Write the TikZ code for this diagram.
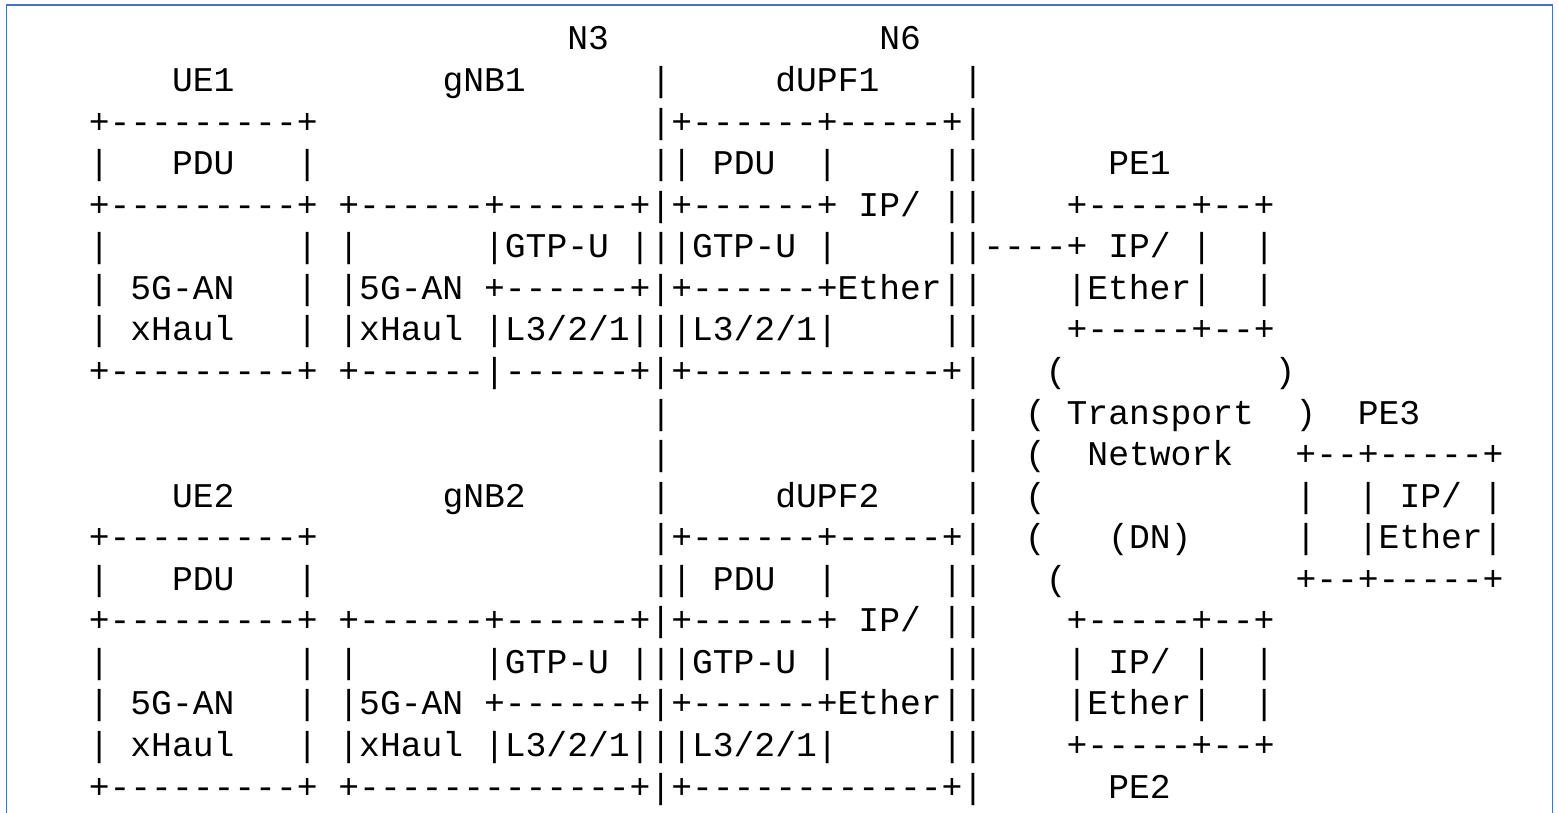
\documentclass[tikz,border=0pt]{standalone}
\usepackage{fontspec}
\setmonofont{Liberation Mono}
\usepackage{tikz}

\definecolor{frameblue}{RGB}{68,114,196}
\newcommand\asciifont{\fontsize{34.67pt}{41.56pt}\selectfont\ttfamily}
\newcommand\gap[1]{\kern#1\fontcharwd\font`x\relax}

\tikzset{
  artline/.style={anchor=base west, inner sep=0pt, font=\asciifont},
  frame/.style={draw=frameblue, line width=1.5pt}
}

\begin{document}
\begin{tikzpicture}[x=1pt,y=1pt]
\useasboundingbox (0,0) rectangle (1558,812);
\draw [frame] (6.5,-4) |- (1552.5,807) -- (1552.5,-4);

% interfaces and node names
\node (r0) [artline] at (26.2,762) {\gap{26}N3\gap{13}N6};
\node (r1) [artline] at (26.2,720.44) {\gap{7}UE1\gap{10}gNB1\gap{6}|\gap{5}dUPF1\gap{4}|};
% first UE / gNB / dUPF stack
\node (r2) [artline] at (26.2,678.88) {\gap{3}+---------+\gap{16}|+------+-----+|};
\node (r3) [artline] at (26.2,637.32) {\gap{3}|\gap{3}PDU\gap{3}|\gap{16}||~PDU\gap{2}|\gap{5}||\gap{6}PE1};
\node (r4) [artline] at (26.2,595.76) {\gap{3}+---------+~+------+------+|+------+~IP/~||\gap{4}+-----+--+};
\node (r5) [artline] at (26.2,554.2) {\gap{3}|\gap{9}|~|\gap{6}|GTP-U~|||GTP-U~|\gap{5}||----+~IP/~|\gap{2}|};
\node (r6) [artline] at (26.2,512.64) {\gap{3}|~5G-AN\gap{3}|~|5G-AN~+------+|+------+Ether||\gap{4}|Ether|\gap{2}|};
\node (r7) [artline] at (26.2,471.08) {\gap{3}|~xHaul\gap{3}|~|xHaul~|L3/2/1|||L3/2/1|\gap{5}||\gap{4}+-----+--+};
\node (r8) [artline] at (26.2,429.52) {\gap{3}+---------+~+------|------+|+------------+|\gap{3}(\gap{10})};
% transport network
\node (r9) [artline] at (26.2,387.96) {\gap{30}|\gap{14}|\gap{2}(~Transport\gap{2})\gap{2}PE3};
\node (r10) [artline] at (26.2,346.4) {\gap{30}|\gap{14}|\gap{2}(\gap{2}Network\gap{3}+--+-----+};
\node (r11) [artline] at (26.2,304.84) {\gap{7}UE2\gap{10}gNB2\gap{6}|\gap{5}dUPF2\gap{4}|\gap{2}(\gap{12}|\gap{2}|~IP/~|};
% second UE / gNB / dUPF stack
\node (r12) [artline] at (26.2,263.28) {\gap{3}+---------+\gap{16}|+------+-----+|\gap{2}(\gap{3}(DN)\gap{5}|\gap{2}|Ether|};
\node (r13) [artline] at (26.2,221.72) {\gap{3}|\gap{3}PDU\gap{3}|\gap{16}||~PDU\gap{2}|\gap{5}||\gap{3}(\gap{11}+--+-----+};
\node (r14) [artline] at (26.2,180.16) {\gap{3}+---------+~+------+------+|+------+~IP/~||\gap{4}+-----+--+};
\node (r15) [artline] at (26.2,138.6) {\gap{3}|\gap{9}|~|\gap{6}|GTP-U~|||GTP-U~|\gap{5}||\gap{4}|~IP/~|\gap{2}|};
\node (r16) [artline] at (26.2,97.04) {\gap{3}|~5G-AN\gap{3}|~|5G-AN~+------+|+------+Ether||\gap{4}|Ether|\gap{2}|};
\node (r17) [artline] at (26.2,55.48) {\gap{3}|~xHaul\gap{3}|~|xHaul~|L3/2/1|||L3/2/1|\gap{5}||\gap{4}+-----+--+};
\node (r18) [artline] at (26.2,13.92) {\gap{3}+---------+~+-------------+|+------------+|\gap{6}PE2};
\end{tikzpicture}
\end{document}
